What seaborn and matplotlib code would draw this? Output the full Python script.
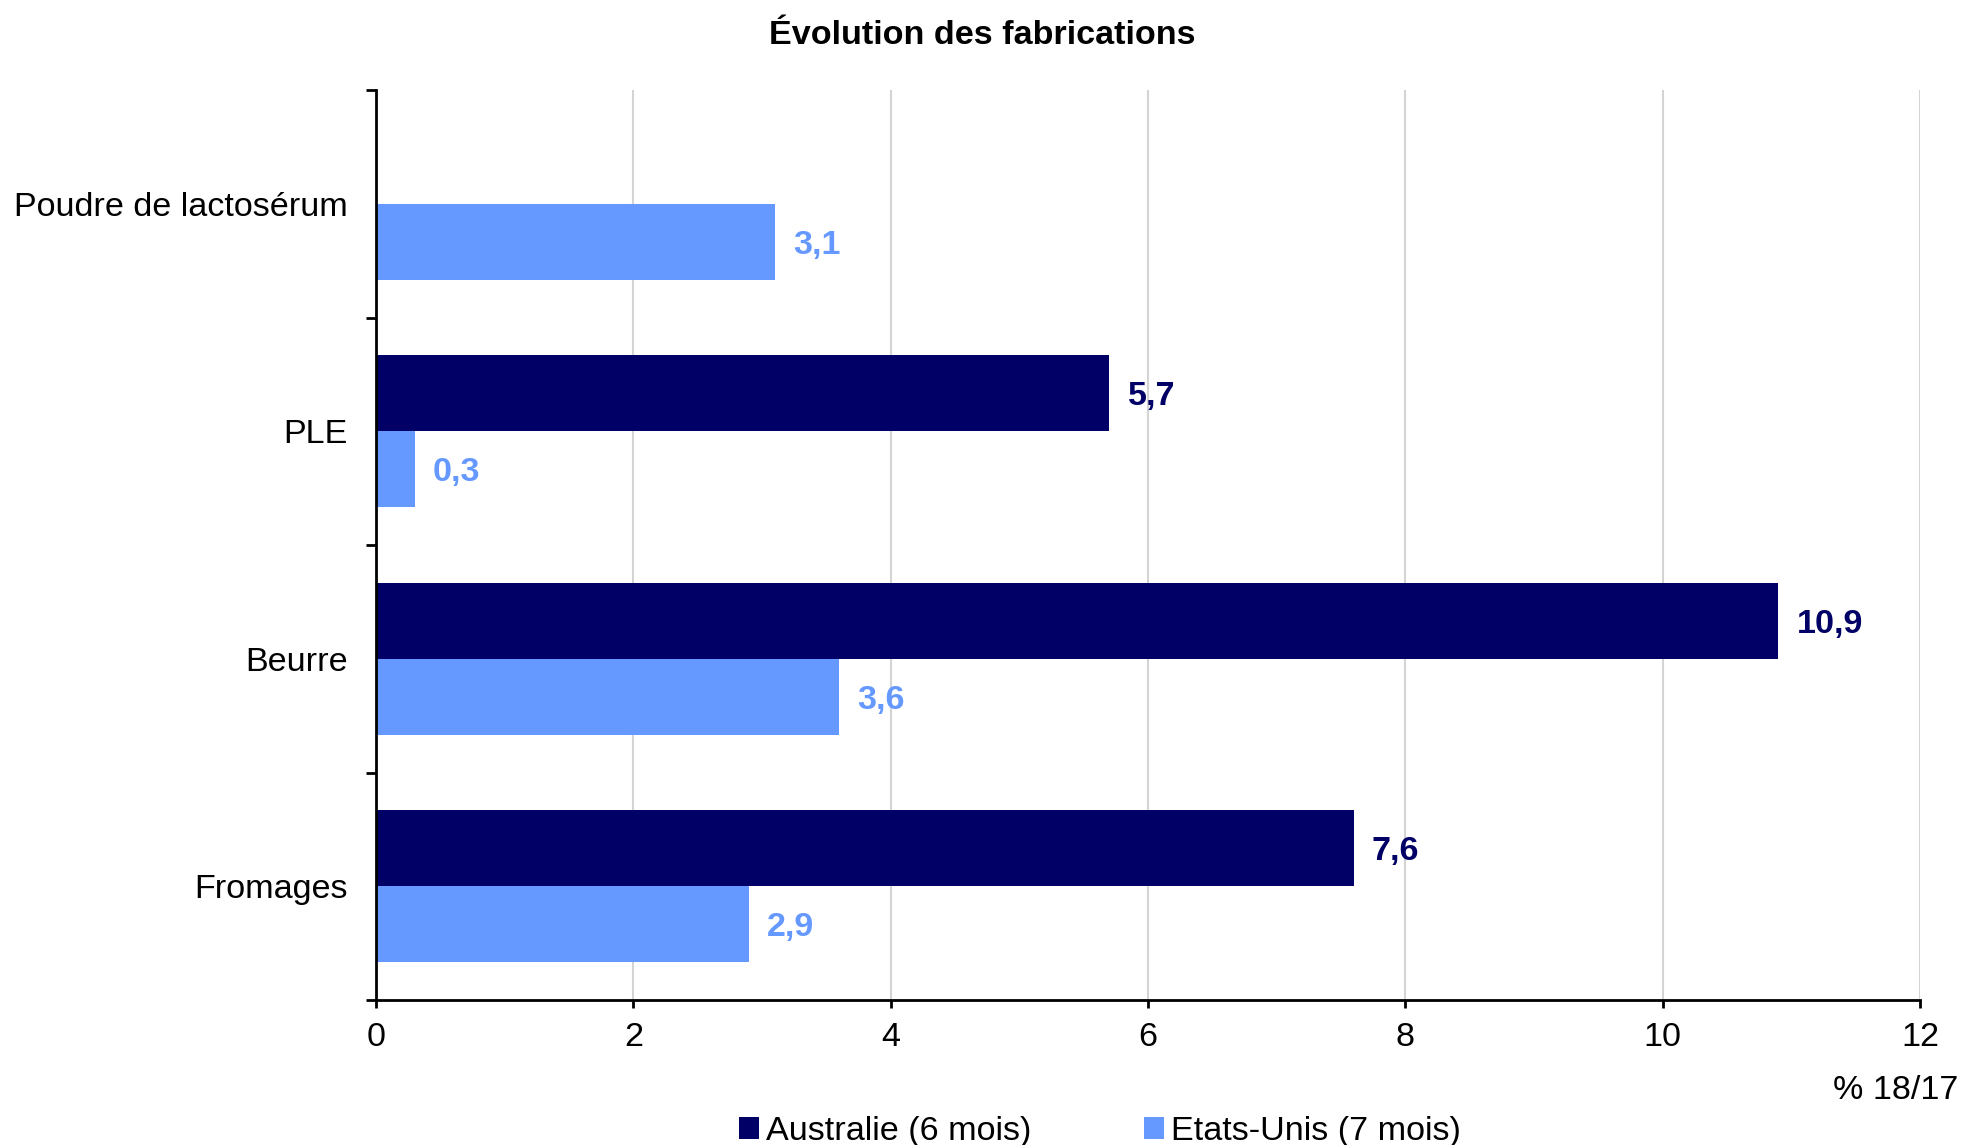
import numpy as np
import pandas as pd
import seaborn as sns
import matplotlib
matplotlib.use("Agg")
import matplotlib.pyplot as plt
from matplotlib.patches import Patch

# data
categories = ["Poudre de lactosérum", "PLE", "Beurre", "Fromages"]
australie = [np.nan, 5.7, 10.9, 7.6]
etats_unis = [3.1, 0.3, 3.6, 2.9]
series = ["Australie (6 mois)", "Etats-Unis (7 mois)"]
colors = ["#000066", "#6699FF"]
x_ticks = [0, 2, 4, 6, 8, 10, 12]

df = pd.DataFrame({
    "produit": categories * 2,
    "pays": [series[0]] * 4 + [series[1]] * 4,
    "valeur": australie + etats_unis,
})

FS = 24.6  # font size used everywhere

sns.set_style("white")
plt.rcParams["font.family"] = ["Liberation Sans", "DejaVu Sans"]
plt.rcParams["text.color"] = "black"
plt.rcParams["xtick.color"] = "black"
plt.rcParams["ytick.color"] = "black"
plt.rcParams["xtick.labelcolor"] = "black"
plt.rcParams["ytick.labelcolor"] = "black"

fig = plt.figure(figsize=(19.64, 11.45), dpi=100)
ax = fig.add_axes([0.1915, 0.1266, 0.7861, 0.7948])

sns.barplot(data=df, x="valeur", y="produit", hue="pays", order=categories,
            hue_order=series, palette=colors, orient="h", width=0.667,
            linewidth=0, saturation=1, legend=False, ax=ax)

# value labels
fmt = lambda v: f"{v:.1f}".replace(".", ",")
for cont, col in zip(ax.containers, colors):
    labels = ax.bar_label(cont, fmt=fmt, padding=13, color=col, fontsize=FS,
                          fontweight="bold")
    for t in labels:
        t.set_va("center_baseline")

ax.set_xlim(0, 12)
ax.set_ylim(3.5, -0.5)
ax.set_xticks(x_ticks)
ax.set_xticklabels([str(t) for t in x_ticks])
ax.set_xlabel("")
ax.set_ylabel("")

# grid and spines
ax.grid(axis="x", color="#d4d4d4", linewidth=1.5)
ax.set_axisbelow(True)
for s in ["top", "right"]:
    ax.spines[s].set_visible(False)
for s in ["left", "bottom"]:
    ax.spines[s].set_color("black")
    ax.spines[s].set_linewidth(2)

ax.tick_params(axis="x", which="major", bottom=True, length=6, width=2,
               labelsize=FS, pad=10, color="black", labelcolor="black")
ax.tick_params(axis="y", which="major", left=False, labelsize=FS, pad=17,
               labelcolor="black")
ax.set_yticks(np.arange(-0.5, 4, 1), minor=True)
ax.tick_params(axis="y", which="minor", left=True, length=7, width=2,
               color="black")

fig.text(0.5, 0.969, "Évolution des fabrications", ha="center", va="center",
         fontsize=FS, fontweight="bold", color="black")
fig.text(0.997, 0.048, "% 18/17", ha="right", va="center", fontsize=FS,
         color="black")

handles = [Patch(facecolor=c, edgecolor="none") for c in colors]
fig.legend(handles, series, loc="center", bbox_to_anchor=(0.56, 0.012),
           ncol=2, frameon=False, fontsize=FS, handlelength=0.6,
           handleheight=0.6, handletextpad=0.2, columnspacing=3.3,
           borderpad=0, borderaxespad=0, labelcolor="black")

fig.savefig("out.png", dpi=100)
